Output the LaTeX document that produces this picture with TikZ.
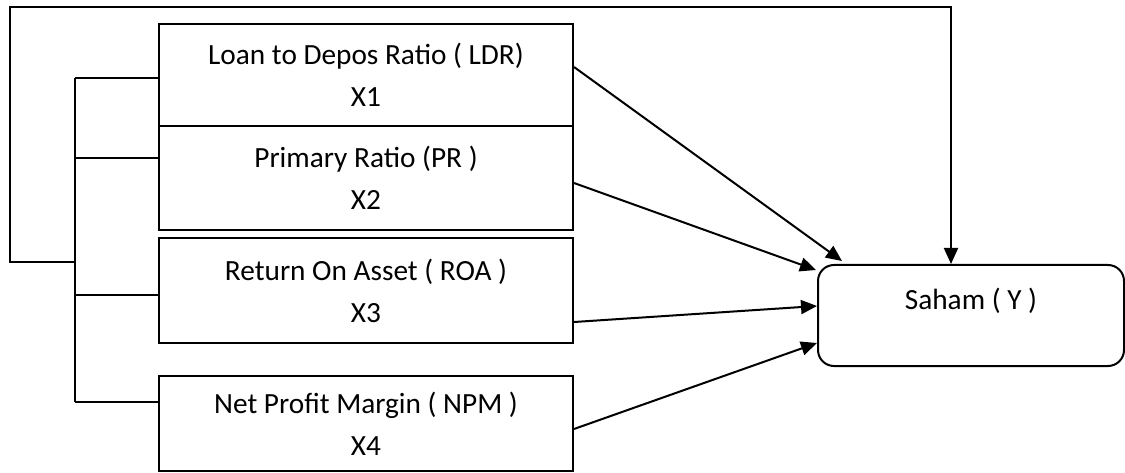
\documentclass[tikz,border=0pt]{standalone}
\usepackage{fontspec}
\setmainfont{Carlito}
\usetikzlibrary{arrows.meta,calc}
\begin{document}
\begin{tikzpicture}[x=1pt,y=-1pt,
  every path/.style={line width=2pt},
  varbox/.style={draw, line width=2pt, minimum width=414pt, inner sep=0pt, align=center,
     font=\fontsize{29.3}{42}\selectfont},
  ybox/.style={draw, line width=2pt, rounded corners=16pt, minimum width=306pt, minimum height=101pt,
     inner sep=0pt, text height=21pt, text depth=34pt, font=\fontsize{29.3}{42}\selectfont},
  arr/.style={-{Triangle[length=16pt,width=14pt]}, line width=2pt}]
\useasboundingbox (0,0) rectangle (1125,473);
\node[varbox, minimum height=102pt] (b1) at (366,75) {Loan to Depos Ratio ( LDR)\\X1};
\node[varbox, minimum height=104pt] (b2) at (366,178) {Primary Ratio (PR )\\X2};
\node[varbox, minimum height=105pt] (b3) at (366,290.5) {Return On Asset ( ROA )\\X3};
\node[varbox, minimum height=95pt] (b4) at (366,423.5) {Net Profit Margin ( NPM )\\X4};
\node[ybox] (s) at (971,315.5) {Saham ( Y )};
\coordinate (j1) at (75,78);
\coordinate (j2) at (75,158);
\coordinate (jl) at (75,262);
\coordinate (j3) at (75,295);
\coordinate (j4) at (75,402);
\coordinate (lc) at (10,262);
\coordinate (top) at (951,7);
\draw (j1) -- (j4);
\draw (j1) -- (b1.west |- j1);
\draw (j2) -- (b2.west |- j2);
\draw (j3) -- (b3.west |- j3);
\draw (j4) -- (b4.west |- j4);
\draw[arr] (jl) -- (lc) |- (top) -- (top |- s.north);
\draw[arr] ($(b1.east)+(0,-8)$) -- ($(s.north west)+(25,-3)$);
\draw[arr] ($(b2.east)+(0,5)$) -- ($(s.north west)+(-1,6)$);
\draw[arr] ($(b3.east)+(0,31.5)$) -- ($(s.west)+(0,-9.5)$);
\draw[arr] ($(b4.east)+(0,5.5)$) -- ($(s.west)+(0,27.5)$);
\end{tikzpicture}
\end{document}
